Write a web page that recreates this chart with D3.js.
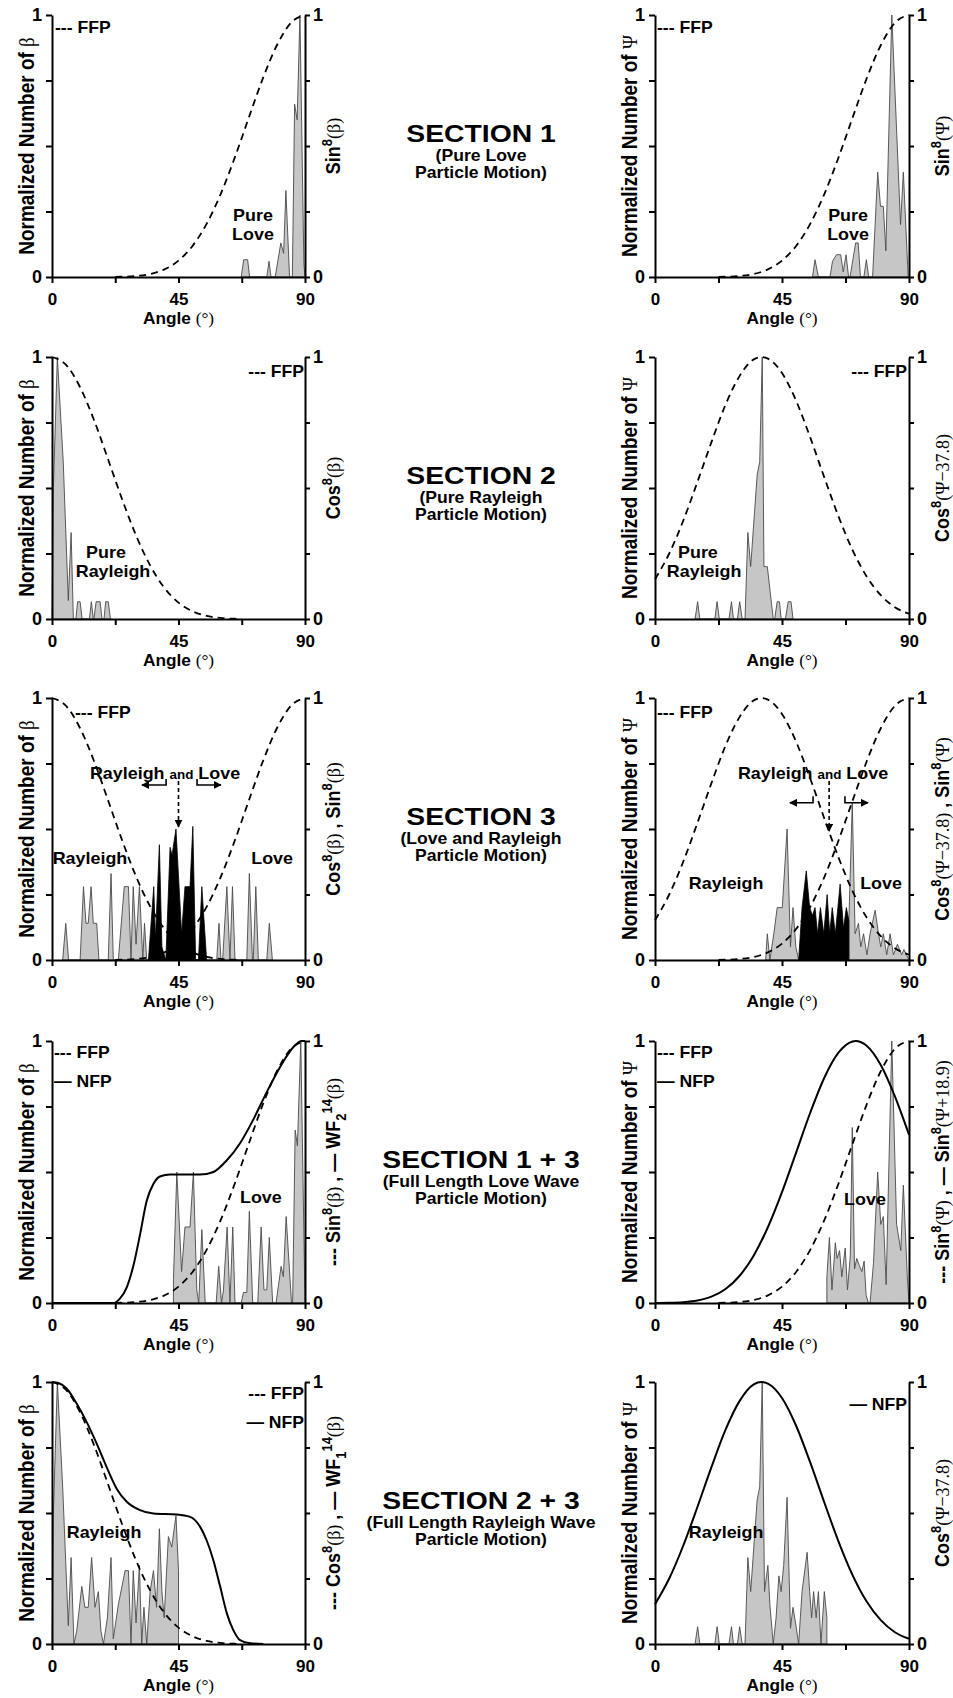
<!DOCTYPE html>
<html>
<head>
<meta charset="utf-8">
<script src="https://cdn.jsdelivr.net/npm/d3@7"></script>
<style>
body { margin: 0; background: #fff; }
svg { display: block; }
</style>
</head>
<body>
<div id="chart"></div>
<script>
// ticks shared by every panel
var xTicks = [0, 22.5, 45, 67.5, 90]
var xTickLabels = [0, 45, 90]
var yTicks = [0, 0.25, 0.5, 0.75, 1]

// far-field / near-field curves, [angle, value]
var sin8 = [[22.5,0.0005],[25,0.001],[30,0.0039],[35,0.0117],[40,0.0291],[45,0.0625],[50,0.1186],[55,0.2027],[60,0.3164],[65,0.4552],[70,0.6079],[75,0.7578],[80,0.8845],[85,0.97],[90,1]]
var cos8 = [[0,1],[5,0.97],[10,0.8845],[15,0.7578],[20,0.6079],[25,0.4552],[30,0.3164],[35,0.2027],[40,0.1186],[45,0.0625],[50,0.0291],[55,0.0117],[60,0.0039],[65,0.001],[67.5,0.0005]]
var cos8Shift = [[0,0.152],[5,0.249],[10,0.375],[15,0.522],[20,0.675],[25,0.818],[30,0.928],[35,0.991],[37.8,1],[40,0.994],[45,0.939],[50,0.833],[55,0.693],[60,0.54],[65,0.392],[70,0.263],[75,0.162],[80,0.091],[85,0.045],[90,0.02]]
var sin8Shift = [[0,0.0001],[5,0.0007],[10,0.003],[15,0.0094],[20,0.0242],[25,0.0534],[30,0.104],[35,0.1817],[40,0.2891],[45,0.4229],[50,0.5742],[55,0.7262],[60,0.8599],[65,0.9553],[70,0.9984],[71.1,1],[75,0.9817],[80,0.908],[85,0.7883],[90,0.642]]
var wf2 = [[0,0],[21.8,0],[24,0.015],[26.6,0.06],[28.9,0.14],[31.3,0.26],[33.7,0.39],[36.1,0.455],[38.4,0.483],[42,0.49],[52.7,0.49],[57.4,0.5],[62.2,0.545],[66.9,0.61],[71.6,0.7],[76.4,0.805],[81.1,0.9],[85.9,0.977],[88.8,1],[90,1]]
var wf1 = [[0,1],[2.3,0.996],[5.2,0.975],[8.8,0.917],[12.3,0.848],[15.9,0.765],[19.4,0.676],[23,0.593],[26.6,0.543],[31.3,0.511],[36.1,0.498],[44.4,0.494],[49.1,0.485],[52.7,0.447],[55,0.396],[57.4,0.32],[59.8,0.22],[62.2,0.117],[64.5,0.053],[66.9,0.015],[70.5,0.003],[75.2,0]]

// normalized histograms, [angle, value]
var hist1L = [[67.3,0],[68.2,0.066],[69.6,0.066],[70.3,0],[76.4,0],[77.2,0.06],[77.9,0],[79.4,0],[81.4,0.13],[82.4,0.09],[83.2,0.33],[84.5,0],[85.5,0],[86.3,0.66],[87.2,0.6],[88.2,1],[89.6,0.05],[90,0]]
var hist1R = [[55.8,0],[56.7,0.066],[57.9,0],[62,0],[62.9,0.06],[64.3,0.085],[65.8,0.085],[66.7,0.02],[67.7,0.085],[68.6,0],[69.1,0],[71.1,0.13],[72,0.13],[72.8,0],[74,0],[74.9,0.066],[75.7,0],[77.1,0],[78.9,0.4],[79.9,0.27],[80.9,0.27],[81.8,0.1],[83.9,1],[87,0.2],[88,0.4],[89.7,0]]
var hist2L = [[0,0],[0.5,0.5],[1.9,1],[4,0.6],[5.8,0.07],[6.8,0.33],[7.6,0],[8.5,0],[9.1,0.066],[10,0.066],[10.7,0],[13.3,0],[14,0.066],[14.7,0],[14.9,0],[15.7,0.066],[17.1,0.066],[17.8,0],[18.5,0],[19.1,0.066],[20,0.066],[20.8,0]]
var hist2R = [[14.2,0],[15.1,0.066],[15.9,0],[21.2,0],[22,0.066],[22.8,0],[26.2,0],[27.1,0.066],[27.8,0],[29.2,0],[30,0.066],[30.9,0],[31.9,0],[32.9,0.33],[33.9,0.2],[36.2,0.55],[37.1,0.6],[38,1],[38.6,0.2],[39.8,0.2],[41.9,0],[42.4,0],[43.3,0.066],[44.1,0.066],[44.7,0],[46.2,0],[47.2,0.066],[48.2,0.066],[48.9,0]]
var hist3L = [[3.8,0],[4.9,0.14],[5.9,0],[10,0],[11.2,0.28],[12.1,0.14],[12.9,0.14],[13.9,0.28],[14.7,0.14],[15.9,0.14],[16.7,0],[20,0],[21,0.33],[21.8,0],[23.6,0],[25.7,0.28],[27.2,0.28],[28.1,0],[28.9,0.28],[29.9,0.06],[31.1,0.28],[32.3,0],[32.9,0.14],[33.7,0],[58.6,0],[59.4,0.14],[60.1,0],[60.7,0],[62.2,0.28],[63.3,0],[64.2,0.28],[65.1,0],[69.3,0],[70.2,0.33],[71.3,0],[71.6,0],[72.5,0.28],[73.4,0],[76.4,0],[77.3,0.14],[78.4,0]]
var hist3LBoth = [[34.3,0],[36.2,0.28],[36.8,0.08],[38.2,0.44],[39.1,0.05],[40.5,0],[42,0.43],[42.7,0.4],[44.1,0.5],[46.1,0.1],[47.3,0.28],[49.1,0.28],[50.1,0.51],[51.1,0],[52.1,0],[53.3,0.28],[55,0]]
var hist3R = [[39.2,0],[39.8,0.1],[40.7,0],[42.1,0.1],[43.3,0.2],[45.1,0.2],[46.8,0.5],[48,0.05],[48.9,0.2],[49.9,0.05],[50.9,0],[68.7,0],[68.7,0.15],[69.9,0.6],[70.9,0.1],[72.1,0.14],[72.9,0.05],[73.9,0.1],[75.1,0.02],[76.2,0.1],[78,0.19],[79.2,0.1],[80,0.05],[80.9,0.1],[82.1,0.02],[83.3,0.1],[84.5,0.02],[85.9,0.06],[87.4,0.02],[88.2,0.04],[90,0]]
var hist3RBoth = [[50.9,0],[52.1,0.2],[53.6,0.34],[54.8,0.2],[55.8,0.17],[56.7,0.2],[57.6,0.1],[58.6,0.2],[59.8,0.1],[61,0.25],[61.9,0.1],[62.8,0.2],[63.9,0.1],[65.6,0.29],[66.8,0.12],[67.8,0.2],[68.7,0.15],[68.7,0]]
var hist4L = [[43.2,0],[43.2,0.09],[44.4,0.5],[46.1,0.12],[47.3,0.29],[49.1,0.29],[50.3,0.5],[51.5,0.05],[52.2,0],[53.3,0.28],[54.5,0],[58.4,0],[59.3,0.14],[60.3,0],[61,0.05],[62.3,0.29],[63.3,0],[64.3,0.29],[65.1,0],[67.3,0],[68.1,0.04],[69.3,0.04],[70.2,0.35],[71.4,0],[73.2,0],[74.4,0.29],[75.4,0.05],[76.4,0.05],[77.3,0.25],[78.5,0],[79.7,0],[81.5,0.14],[82.3,0.1],[83.3,0.33],[85.2,0],[85.6,0],[86.5,0.66],[87.3,0.6],[88.5,1],[90,0]]
var hist4R = [[60.9,0],[60.9,0.1],[61.8,0.25],[62.7,0.05],[63.9,0.23],[64.5,0.17],[65.4,0.2],[66.2,0.1],[67.4,0.21],[68.2,0.05],[69.2,0.18],[69.9,0.67],[70.7,0.13],[71.5,0.17],[72.5,0.14],[73.3,0.12],[74.1,0.16],[74.8,0.03],[75.6,0],[76.2,0],[77.4,0.15],[78.9,0.5],[80,0.3],[80.9,0.33],[81.9,0.07],[83.9,1],[85.6,0.3],[87.1,0.2],[88,0.45],[89.4,0.1],[90,0]]
var hist5L = [[0,0],[0.5,0.5],[1.9,1],[3.8,0.6],[5.8,0.07],[6.8,0.33],[7.8,0],[8.8,0.05],[10.6,0.22],[11.7,0.14],[12.9,0.14],[14.1,0.33],[15.3,0.14],[16.5,0.2],[17.4,0.05],[18.3,0],[19.7,0.1],[21,0.33],[21.8,0.02],[23.6,0.15],[26,0.28],[27.2,0.28],[28.1,0],[28.9,0.28],[29.9,0.08],[31.1,0.3],[31.9,0],[32.7,0.14],[33.7,0],[34.9,0.2],[36.1,0.28],[37.2,0.14],[38.2,0.44],[39.1,0.2],[39.9,0.1],[41.4,0.41],[42.6,0.37],[44.1,0.49],[45,0.28],[45,0]]
var hist5R = [[14.2,0],[15.1,0.066],[15.9,0],[21.2,0],[22,0.066],[22.8,0],[26.2,0],[27.1,0.066],[27.8,0],[29.2,0],[30,0.066],[30.9,0],[31.9,0],[32.9,0.33],[33.9,0.2],[36.2,0.55],[37.1,0.6],[38,1],[38.8,0.2],[40,0.3],[40.7,0.15],[41.9,0],[42.9,0.1],[43.9,0.26],[44.7,0.2],[45.6,0.3],[46.8,0.56],[48,0.06],[48.9,0.14],[49.8,0.08],[50.9,0],[52.1,0.2],[53.9,0.35],[54.8,0.2],[55.5,0.1],[56.2,0.2],[57.1,0.1],[57.9,0.2],[58.8,0],[60,0.2],[60.9,0.1],[60.9,0]]

// middle column text
var sectionTitles = ["SECTION 1", "SECTION 2", "SECTION 3", "SECTION 1 + 3", "SECTION 2 + 3"]
var sectionSubs = [["(Pure Love", "Particle Motion)"], ["(Pure Rayleigh", "Particle Motion)"], ["(Love and Rayleigh", "Particle Motion)"], ["(Full Length Love Wave", "Particle Motion)"], ["(Full Length Rayleigh Wave", "Particle Motion)"]]

var sans = "'Liberation Sans', Arial, sans-serif"
var serif = "'Liberation Serif', 'Times New Roman', serif"

var width = 953, height = 1698
var rowTop = [15, 357, 698, 1041, 1382]
var colLeft = [52, 655], colW = [253, 254]
var plotH = 262

var svg = d3.select("#chart").append("svg")
    .attr("width", width)
    .attr("height", height)

svg.append("defs").append("marker")
    .attr("id", "head")
    .attr("viewBox", "0 0 10 10")
    .attr("refX", 9).attr("refY", 5)
    .attr("markerWidth", 8).attr("markerHeight", 8)
    .attr("markerUnits", "userSpaceOnUse")
    .attr("orient", "auto")
    .append("path").attr("d", "M0,0L10,5L0,10z").attr("fill", "#000")

// text made of bold / serif / super / sub pieces
function rich(text, parts, size) {
    var shift = 0
    parts.forEach(function(p) {
        var ts = text.append("tspan").text(p[0])
        var target = 0, fs = size
        if (p[1] == "sup") { target = -0.42 * size; fs = size * 0.72 }
        if (p[1] == "sub") { target = 0.28 * size; fs = size * 0.72 }
        if (p[1] == "small") fs = size * 0.75
        if (p[1] == "s") { fs = size; ts.attr("font-family", serif).attr("font-weight", "normal") }
        ts.attr("font-size", fs)
        if (target - shift != 0) ts.attr("dy", target - shift)
        shift = target
    })
}

function label(g, x, y, parts, size, anchor, sx, rot) {
    if (typeof parts == "string") parts = [[parts]]
    var t = g.append("text")
        .attr("transform", "translate(" + x + "," + y + ") scale(" + sx + ",1)" + (rot ? " rotate(-90)" : ""))
        .attr("text-anchor", anchor)
        .attr("font-family", sans)
        .attr("font-weight", "bold")
        .attr("font-size", size)
        .attr("fill", "#000")
    rich(t, parts, size)
    return t
}

var panels = [
    {row: 0, col: 0, v: "β", hist: hist1L, dashed: [sin8],
     right: [["Sin"], ["8", "sup"], ["(β)", "s"]],
     legend: [["--- FFP", "start", 3, 18]],
     notes: [["Pure", 71.5, 0.214], ["Love", 71.5, 0.141]]},
    {row: 0, col: 1, v: "Ψ", hist: hist1R, dashed: [sin8],
     right: [["Sin"], ["8", "sup"], ["(Ψ)", "s"]],
     legend: [["--- FFP", "start", 2, 18]],
     notes: [["Pure", 68.4, 0.214], ["Love", 68.4, 0.141]]},
    {row: 1, col: 0, v: "β", hist: hist2L, dashed: [cos8],
     right: [["Cos"], ["8", "sup"], ["(β)", "s"]],
     legend: [["--- FFP", "end", -1, 20]],
     notes: [["Pure", 19.2, 0.233], ["Rayleigh", 21.7, 0.16]]},
    {row: 1, col: 1, v: "Ψ", hist: hist2R, dashed: [cos8Shift],
     right: [["Cos"], ["8", "sup"], ["(Ψ−37.8)", "s"]],
     legend: [["--- FFP", "end", -2, 20]],
     notes: [["Pure", 15.2, 0.233], ["Rayleigh", 17.4, 0.16]]},
    {row: 2, col: 0, v: "β", hist: hist3L, both: hist3LBoth, dashed: [cos8, sin8],
     right: [["Cos"], ["8", "sup"], ["(β)", "s"], [" , Sin"], ["8", "sup"], ["(β)", "s"]],
     legend: [["--- FFP", "start", 23, 20]],
     notes: [[[["Rayleigh "], ["and", "small"], [" Love"]], 40.2, 0.69], ["Rayleigh", 13.5, 0.366], ["Love", 78.3, 0.366]],
     arrows: {left: [32, 40.6], right: [51.6, 60.1], y: 0.668, hook: 0.691, drop: [45, 0.683, 0.508]}},
    {row: 2, col: 1, v: "Ψ", hist: hist3R, both: hist3RBoth, dashed: [cos8Shift, sin8],
     right: [["Cos"], ["8", "sup"], ["(Ψ−37.8)", "s"], [" , Sin"], ["8", "sup"], ["(Ψ)", "s"]],
     legend: [["--- FFP", "start", 2, 20]],
     notes: [[[["Rayleigh "], ["and", "small"], [" Love"]], 56, 0.69], ["Rayleigh", 25.2, 0.271], ["Love", 80.1, 0.271]],
     arrows: {left: [47.8, 56], right: [67.3, 75.5], y: 0.6, hook: 0.625, drop: [61.7, 0.683, 0.492]}},
    {row: 3, col: 0, v: "β", hist: hist4L, dashed: [sin8], solid: [wf2],
     right: [["--- Sin"], ["8", "sup"], ["(β)", "s"], [" , — WF"], ["2", "sub"], ["14", "sup"], ["(β)", "s"]],
     legend: [["--- FFP", "start", 2, 17], ["— NFP", "start", 2, 46]],
     notes: [["Love", 74.3, 0.382]]},
    {row: 3, col: 1, v: "Ψ", hist: hist4R, dashed: [sin8], solid: [sin8Shift],
     right: [["--- Sin"], ["8", "sup"], ["(Ψ)", "s"], [" , — Sin"], ["8", "sup"], ["(Ψ+18.9)", "s"]],
     legend: [["--- FFP", "start", 2, 17], ["— NFP", "start", 2, 46]],
     notes: [["Love", 74.4, 0.374]]},
    {row: 4, col: 0, v: "β", hist: hist5L, dashed: [cos8], solid: [wf1],
     right: [["--- Cos"], ["8", "sup"], ["(β)", "s"], [" , — WF"], ["1", "sub"], ["14", "sup"], ["(β)", "s"]],
     legend: [["--- FFP", "end", -1, 17], ["— NFP", "end", -1, 46]],
     notes: [["Rayleigh", 18.5, 0.405]]},
    {row: 4, col: 1, v: "Ψ", hist: hist5R, solid: [cos8Shift],
     right: [["Cos"], ["8", "sup"], ["(Ψ−37.8)", "s"]],
     legend: [["— NFP", "end", -2, 28]],
     notes: [["Rayleigh", 25.2, 0.405]]}
]

panels.forEach(function(p) {
    var left = colLeft[p.col], w = colW[p.col]
    var top = rowTop[p.row], bottom = top + plotH
    var x = d3.scaleLinear().domain([0, 90]).range([left, left + w])
    var y = d3.scaleLinear().domain([0, 1]).range([bottom, top])
    var g = svg.append("g")

    var area = d3.area()
        .x(function(d) { return x(d[0]) })
        .y0(y(0))
        .y1(function(d) { return y(d[1]) })
    var line = d3.line()
        .x(function(d) { return x(d[0]) })
        .y(function(d) { return y(d[1]) })
        .curve(d3.curveMonotoneX)

    g.append("path").datum(p.hist).attr("d", area)
        .attr("fill", "#c6c6c6").attr("stroke", "#4a4a4a").attr("stroke-width", 0.9)
    if (p.both) {
        g.append("path").datum(p.both).attr("d", area)
            .attr("fill", "#000").attr("stroke", "#000").attr("stroke-width", 0.8)
    }
    ;(p.dashed || []).forEach(function(c) {
        g.append("path").datum(c).attr("d", line)
            .attr("fill", "none").attr("stroke", "#000").attr("stroke-width", 1.8)
            .attr("stroke-dasharray", "7,5")
    })
    ;(p.solid || []).forEach(function(c) {
        g.append("path").datum(c).attr("d", line)
            .attr("fill", "none").attr("stroke", "#000").attr("stroke-width", 2)
    })

    // axes
    var yFmt = function(d) { return d == 0 ? "0" : d == 1 ? "1" : "" }
    var ax = g.append("g").attr("transform", "translate(0," + bottom + ")")
        .call(d3.axisBottom(x).tickValues(xTicks).tickSize(6).tickSizeOuter(0).tickPadding(9)
            .tickFormat(function(d) { return xTickLabels.indexOf(d) >= 0 ? d : "" }))
    var al = g.append("g").attr("transform", "translate(" + left + ",0)")
        .call(d3.axisLeft(y).tickValues(yTicks).tickSize(6).tickSizeOuter(0).tickPadding(4).tickFormat(yFmt))
    var ar = g.append("g").attr("transform", "translate(" + (left + w) + ",0)")
        .call(d3.axisRight(y).tickValues(yTicks).tickSize(5).tickSizeOuter(0).tickPadding(3).tickFormat(yFmt))
    ;[ax, al, ar].forEach(function(a) {
        a.selectAll("path, line").attr("stroke", "#000").attr("stroke-width", 2)
        a.selectAll("text").attr("font-family", sans).attr("font-weight", "bold")
            .attr("font-size", 18).attr("fill", "#000")
    })
    ax.selectAll("text").attr("font-size", 17).attr("dy", "0.75em")

    // axis titles
    label(g, left + w / 2, bottom + 47, [["Angle "], ["(°)", "s"]], 16, "middle", 1.08, false)
    label(g, left - 18, top + plotH / 2, [["Normalized Number of "], [p.v, "s"]], 19, "middle", 1.15, true)
    label(g, left + w + (p.col ? 40 : 35), top + plotH / 2, p.right, 18, "middle", 1.1, true)

    // legend text
    p.legend.forEach(function(l) {
        var lx = l[1] == "start" ? left + l[2] : left + w + l[2]
        label(g, lx, top + l[3], l[0], 16, l[1], 1.1, false)
    })

    // in-plot notes
    p.notes.forEach(function(n) {
        label(g, x(n[1]), y(n[2]), n[0], 16, "middle", 1.12, false)
    })

    if (p.arrows) {
        var a = p.arrows
        g.append("path")
            .attr("d", "M" + x(a.left[1]) + "," + y(a.hook) + "V" + y(a.y) + "H" + x(a.left[0]))
            .attr("fill", "none").attr("stroke", "#000").attr("stroke-width", 1.6)
            .attr("marker-end", "url(#head)")
        g.append("path")
            .attr("d", "M" + x(a.right[0]) + "," + y(a.hook) + "V" + y(a.y) + "H" + x(a.right[1]))
            .attr("fill", "none").attr("stroke", "#000").attr("stroke-width", 1.6)
            .attr("marker-end", "url(#head)")
        g.append("path")
            .attr("d", "M" + x(a.drop[0]) + "," + y(a.drop[1]) + "V" + y(a.drop[2]))
            .attr("fill", "none").attr("stroke", "#000").attr("stroke-width", 1.6)
            .attr("stroke-dasharray", "4,3")
            .attr("marker-end", "url(#head)")
    }
})

// section captions in the middle column
sectionTitles.forEach(function(t, i) {
    var cy = rowTop[i] + 118
    label(svg, 481, cy + 9, t, 24, "middle", 1.18, false)
    sectionSubs[i].forEach(function(s, j) {
        label(svg, 481, cy + 28 + j * 17, s, 16, "middle", 1.1, false)
    })
})
</script>
</body>
</html>
